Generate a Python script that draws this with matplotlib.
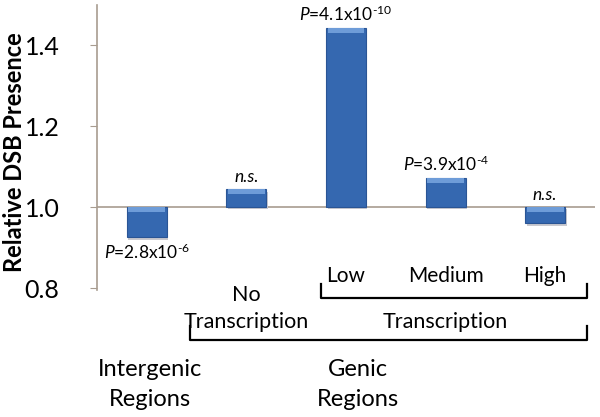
import numpy as np
import matplotlib.pyplot as plt
import matplotlib.transforms as mtransforms

# Data
categories = ["Intergenic", "No Transcription", "Low", "Medium", "High"]
values = [0.925, 1.044, 1.442, 1.072, 0.960]
pvalues = [r"$\it{P}$=2.8x10$^{\text{-6}}$", "n.s.", r"$\it{P}$=4.1x10$^{\text{-10}}$",
           r"$\it{P}$=3.9x10$^{\text{-4}}$", "n.s."]
label_above = [False, True, True, True, True]
yticks = [0.8, 1.0, 1.2, 1.4]

plt.rcParams['font.family'] = ['Lato', 'DejaVu Sans']
plt.rcParams['mathtext.fontset'] = 'custom'
plt.rcParams['mathtext.rm'] = 'Lato'
plt.rcParams['mathtext.it'] = 'Lato:italic'

W, H = 600, 417
fig = plt.figure(figsize=(6, 4.17), dpi=100)
ax = fig.add_axes([97 / W, 1 - 288 / H, 498 / W, (288 - 4.5) / H])

x = np.arange(len(categories))
base = 1.0
heights = [v - base for v in values]
# soft shadow, main bar, and a light bevel on top
ax.bar(x + 0.015, heights, bottom=base - 0.006, width=0.4, color='#c9c9cf',
       linewidth=0, zorder=2.5)
ax.bar(x, heights, bottom=base, width=0.4, color='#3568b0',
       edgecolor='#2a5595', linewidth=0.8, zorder=3)
tops = [max(v, base) for v in values]
ax.bar(x, [-0.012] * len(x), bottom=tops, width=0.37, color='#6e9cd8',
       linewidth=0, zorder=4)

ax.axhline(base, color='#a89c90', linewidth=1.2, zorder=2)

ax.set_xlim(-0.5, 4.5)
ax.set_ylim(0.8, 1.5)
ax.set_yticks(yticks)
ax.set_yticklabels([f"{t:.1f}" for t in yticks], fontsize=18)
ax.tick_params(axis='y', direction='out', length=5, color='#a89c90', pad=22)
ax.set_xticks([])
for s in ['top', 'right', 'bottom']:
    ax.spines[s].set_visible(False)
ax.spines['left'].set_color('#a89c90')
ax.spines['left'].set_linewidth(1.2)
ax.spines['left'].set_bounds(0.795, 1.5)

fig.text(15 / W, 1 - 152 / H, "Relative DSB Presence", rotation=90, ha='center',
         va='center', fontsize=17, fontweight='bold')

# p-value annotations
for xi, v, p, up in zip(x, values, pvalues, label_above):
    style = 'italic' if p == "n.s." else 'normal'
    if up:
        ax.text(xi, max(v, base) + 0.01, p, ha='center', va='bottom', fontsize=12.5,
                style=style, zorder=5)
    else:
        ax.text(xi, v - 0.012, p, ha='center', va='top', fontsize=12.5,
                style=style, zorder=5)

# category labels below the axis
tr = mtransforms.blended_transform_factory(ax.transData, fig.transFigure)


def fy(ypix):
    return 1 - ypix / H


lab_kw = dict(transform=tr, ha='center', va='center', fontsize=15)
for xi, lab in zip(x[2:], categories[2:]):
    ax.text(xi, fy(276), lab, **lab_kw)
ax.text(x[1], fy(295), "No", **dict(lab_kw, fontsize=15.5))
ax.text(x[1], fy(322), "Transcription", **dict(lab_kw, fontsize=15.5))
ax.text(x[3], fy(322), "Transcription", **dict(lab_kw, fontsize=15.5))
grp_kw = dict(lab_kw, fontsize=17)
ax.text(x[0] + 0.03, fy(370), "Intergenic", **grp_kw)
ax.text(x[0] + 0.03, fy(400), "Regions", **grp_kw)
ax.text(2.12, fy(370), "Genic", **grp_kw)
ax.text(2.12, fy(400), "Regions", **grp_kw)

# brackets
ln_kw = dict(transform=tr, color='black', linewidth=1.6, clip_on=False)
ax.plot([1.75, 1.75, 4.42, 4.42], [fy(284), fy(298), fy(298), fy(284)], **ln_kw)
ax.plot([0.43, 0.43, 4.42, 4.42], [fy(326), fy(340), fy(340), fy(326)], **ln_kw)

fig.savefig("out.png", dpi=100)
